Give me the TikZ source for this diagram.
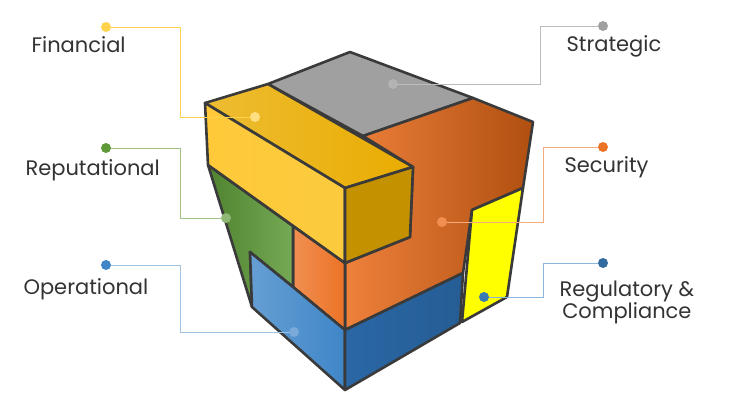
\documentclass[tikz,border=0pt]{standalone}
\usepackage{fontspec}
\setmainfont{Poppins}
\usetikzlibrary{positioning}
\definecolor{fin}{HTML}{FFD24D}
\definecolor{finlight}{HTML}{FFC93A}
\definecolor{findark}{HTML}{E9AC00}
\definecolor{finside}{HTML}{C49100}
\definecolor{strat}{HTML}{A0A0A0}
\definecolor{sec}{HTML}{EC7326}
\definecolor{secdark}{HTML}{B04F10}
\definecolor{rep}{HTML}{5E9A37}
\definecolor{ops}{HTML}{3F86C8}
\definecolor{opsdark}{HTML}{2A67A5}
\definecolor{reg}{HTML}{FFFF00}
\definecolor{edge}{HTML}{3A3A3A}
\begin{document}
\begin{tikzpicture}[x=1pt,y=-1pt,
  face/.style={draw=edge,line width=2.6pt,line join=round},
  lbl/.style={font=\fontsize{21}{24}\selectfont,text=black!80},
  dot/.style={circle,inner sep=0pt,minimum size=10pt},
  lead/.style={line width=0.6pt}]
  \useasboundingbox (0,0) rectangle (729,417);
  % cube faces
  \fill[strat,face] (268,84) -- (350,52) -- (473,98) -- (363,136) -- cycle;
  \shade[left color=sec!90,right color=secdark,face] (413,167) -- (363,136) -- (473,98) -- (533,122) -- (523,188) -- (472,210) -- (463,273) -- (345,330) -- (345,263) -- (410,237) -- cycle;
  \shade[left color=sec!80!white,right color=sec,face] (293,226) -- (345,263) -- (345,330) -- (293,287) -- cycle;
  \shade[left color=rep!85!black,right color=rep!85!white,face] (208,165) -- (293,226) -- (293,287) -- (250,252) -- (252,307) -- cycle;
  \shade[left color=ops!80!white,right color=ops,face] (250,252) -- (293,287) -- (345,330) -- (345,390) -- (252,307) -- cycle;
  \shade[left color=opsdark,right color=opsdark!90!black,face] (345,330) -- (463,273) -- (460,323) -- (345,390) -- cycle;
  \fill[reg,face] (472,210) -- (523,188) -- (507,297) -- (462,322) -- cycle;
  \shade[left color=findark!80!white,right color=findark,face] (205,103) -- (268,84) -- (413,167) -- (345,188) -- cycle;
  \shade[left color=finlight,right color=fin!80!findark,face] (205,103) -- (345,188) -- (345,263) -- (208,165) -- cycle;
  \fill[finside,face] (345,188) -- (413,167) -- (410,237) -- (345,263) -- cycle;
  % markers on the cube
  \node[dot,fill=fin!70!white] (finC) at (255,117) {};
  \node[dot,fill=strat!80!white] (stratC) at (393,84) {};
  \node[dot,fill=rep!70!white] (repC) at (226,218) {};
  \node[dot,fill=sec!80!white] (secC) at (442,222) {};
  \node[dot,fill=ops!70!white] (opsC) at (294,332) {};
  \node[dot,fill=ops!90!black] (regC) at (484,297) {};
  % outer markers
  \node[dot,fill=fin] (finD) at (106,27) {};
  \node[dot,fill=strat] (stratD) at (603,26) {};
  \node[dot,fill=rep] (repD) at (106,148) {};
  \node[dot,fill=sec] (secD) at (603,147) {};
  \node[dot,fill=ops] (opsD) at (106,265) {};
  \node[dot,fill=ops!80!black] (regD) at (603,263) {};
  % labels
  \node[lbl,anchor=west] (finT) at (28,45) {Financial};
  \node[lbl,anchor=west] (stratT) at (563,46) {Strategic};
  \node[lbl,anchor=west] (repT) at (22,170) {Reputational};
  \node[lbl,anchor=west] (secT) at (561,167) {Security};
  \node[lbl,anchor=west] (opsT) at (20,289) {Operational};
  \node[lbl,align=center,anchor=west] (regT) at (556,302) {Regulatory \&\\[-2pt]Compliance};
  % leaders
  \draw[lead,fin] (finD) -| (180,117) -- (finC);
  \draw[lead,strat!70!white] (stratD) -| (540,84) -- (stratC);
  \draw[lead,rep!60!white] (repD) -| (180,218) -- (repC);
  \draw[lead,sec!60!white] (secD) -| (543,222) -- (secC);
  \draw[lead,ops!50!white] (opsD) -| (180,332) -- (opsC);
  \draw[lead,ops!60!white] (regD) -| (543,297) -- (regC);
\end{tikzpicture}
\end{document}
